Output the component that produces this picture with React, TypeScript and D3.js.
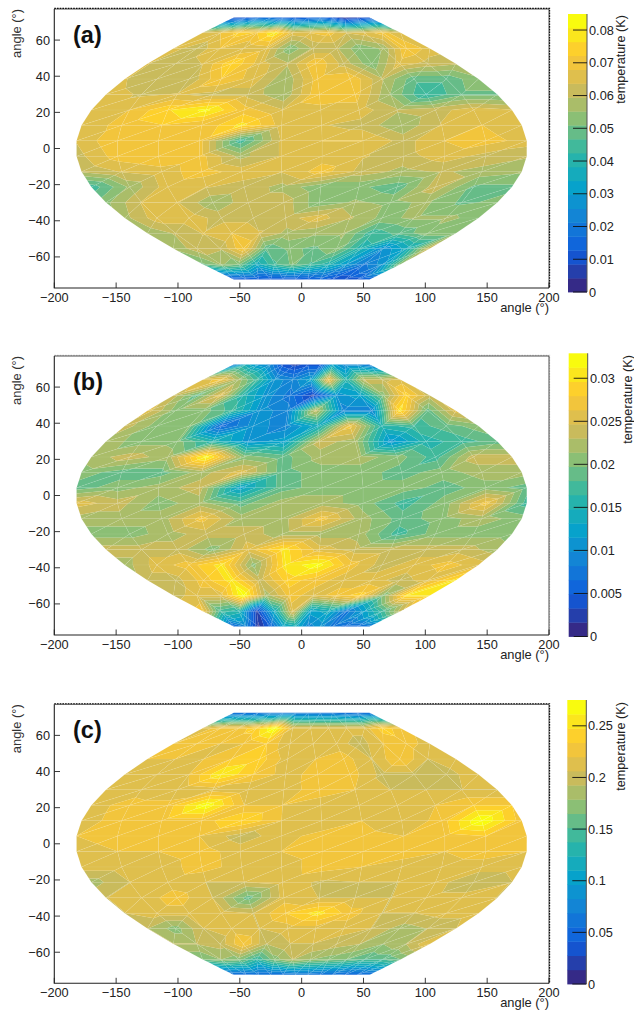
import React, { useMemo } from 'react'
import * as d3 from 'd3'

// grid nodes of the map, degrees
const lats = [72.5, 64, 55.4, 46.9, 38.4, 29.9, 21.3, 12.8, 4.3, -4.3, -12.8, -21.3, -29.9, -38.4, -46.9, -55.4, -64, -72.5]
const lons = [-182.5, -149.3, -116.1, -82.9, -49.8, -16.6, 16.6, 49.8, 82.9, 116.1, 149.3, 182.5]

// temperatures in mK, one row per latitude
const tempA = [
  [8, 10, 14, 16, 12, 10, 12, 14, 10, 3, 6, 10],
  [64, 68, 74, 72, 80, 66, 68, 70, 64, 66, 70, 64],
  [66, 60, 68, 64, 66, 52, 60, 60, 52, 56, 72, 66],
  [64, 60, 64, 76, 66, 60, 72, 62, 52, 66, 62, 60],
  [64, 60, 60, 72, 66, 56, 70, 72, 60, 48, 48, 54],
  [66, 63, 64, 62, 62, 56, 72, 70, 55, 42, 50, 50],
  [66, 68, 76, 82, 70, 64, 66, 66, 60, 62, 66, 64],
  [64, 70, 72, 68, 78, 66, 64, 62, 56, 64, 68, 64],
  [64, 72, 72, 70, 44, 64, 68, 68, 62, 68, 70, 66],
  [62, 70, 72, 70, 58, 64, 66, 64, 62, 66, 62, 60],
  [60, 64, 66, 70, 66, 64, 70, 62, 58, 60, 58, 56],
  [44, 56, 66, 64, 62, 58, 52, 52, 48, 62, 50, 50],
  [54, 64, 64, 56, 62, 62, 52, 56, 54, 56, 50, 52],
  [58, 66, 66, 62, 62, 62, 66, 60, 54, 56, 56, 54],
  [56, 60, 64, 68, 64, 58, 56, 56, 44, 48, 54, 54],
  [56, 62, 60, 72, 48, 52, 50, 54, 40, 26, 36, 64],
  [50, 56, 52, 36, 46, 52, 46, 40, 30, 20, 28, 54],
  [10, 11, 12, 11, 11, 11, 12, 14, 10, 10, 10, 13],
]

const tempB = [
  [7.4, 14, 10.7, 9, 4.1, 2.5, 4.1, 4.1, 12.3, 9, 9, 7.4],
  [25.5, 27.1, 22.2, 17.3, 10.7, 9, 12.3, 27.1, 15.6, 23.9, 23.9, 25.5],
  [23.9, 18.9, 25.5, 15.6, 10.7, 7.4, 2.5, 10.7, 12.3, 20.6, 28.8, 23.9],
  [25.5, 20.6, 20.6, 17.3, 10.7, 9, 23.9, 9, 9, 30.4, 18.9, 25.5],
  [23.9, 20.6, 20.6, 5.8, 10.7, 9, 14, 27.1, 15.6, 17.3, 18.9, 20.6],
  [22.2, 20.6, 20.6, 15.6, 10.7, 12.3, 23.9, 22.2, 10.7, 15.6, 17.3, 18.9],
  [22.2, 23.9, 22.2, 32.1, 20.6, 18.9, 22.2, 22.2, 20.6, 17.3, 23.9, 23.9],
  [20.6, 18.9, 18.9, 22.2, 25.5, 18.9, 20.6, 20.6, 18.9, 20.6, 22.2, 22.2],
  [18.9, 20.6, 22.2, 23.9, 12.3, 18.9, 20.6, 20.6, 20.6, 18.9, 20.6, 18.9],
  [25.5, 23.9, 20.6, 22.2, 18.9, 22.2, 22.2, 20.6, 17.3, 20.6, 27.1, 17.3],
  [22.2, 22.2, 22.2, 27.1, 22.2, 22.2, 27.1, 22.2, 18.9, 20.6, 22.2, 20.6],
  [20.6, 20.6, 22.2, 23.9, 23.9, 22.2, 22.2, 22.2, 17.3, 20.6, 20.6, 20.6],
  [23.9, 23.9, 23.9, 20.6, 25.5, 30.4, 25.5, 23.9, 23.9, 23.9, 23.9, 22.2],
  [22.2, 25.5, 27.1, 30.4, 20.6, 30.4, 32.1, 27.1, 23.9, 25.5, 27.1, 25.5],
  [23.9, 23.9, 27.1, 30.4, 23.9, 28.8, 27.1, 25.5, 25.5, 23.9, 25.5, 30.4],
  [23.9, 25.5, 25.5, 32.9, 22.2, 27.1, 25.5, 27.1, 28.8, 20.6, 30.4, 30.4],
  [27.1, 17.3, 15.6, 2.5, 14, 25.5, 12.3, 14, 7.4, 12.3, 17.3, 23.9],
  [5.8, 9, 1.2, 5.8, 12.3, 14, 9, 10.7, 7.4, 5.8, 5.8, 7.4],
]

const tempC = [
  [55, 55, 55, 60, 60, 62, 62, 60, 60, 55, 50, 55],
  [213, 227, 227, 241, 275, 213, 213, 213, 213, 213, 241, 227],
  [220, 234, 220, 220, 234, 206, 213, 213, 199, 220, 227, 213],
  [220, 220, 220, 234, 241, 213, 220, 227, 206, 234, 206, 213],
  [220, 213, 220, 261, 234, 213, 227, 227, 202, 202, 202, 213],
  [220, 213, 206, 213, 206, 213, 227, 220, 206, 206, 206, 206],
  [213, 227, 227, 272, 220, 220, 213, 220, 220, 220, 234, 234],
  [213, 227, 227, 227, 248, 220, 206, 220, 206, 227, 275, 227],
  [220, 227, 227, 220, 199, 213, 227, 227, 220, 227, 234, 227],
  [213, 220, 220, 227, 213, 220, 227, 227, 227, 220, 227, 220],
  [213, 213, 213, 227, 213, 213, 227, 220, 213, 213, 213, 213],
  [186, 206, 213, 206, 206, 213, 204, 206, 206, 213, 193, 206],
  [206, 213, 227, 206, 158, 213, 206, 206, 206, 213, 213, 206],
  [206, 213, 213, 213, 206, 234, 254, 227, 206, 206, 213, 213],
  [193, 172, 206, 213, 206, 213, 213, 213, 206, 186, 193, 206],
  [193, 193, 199, 234, 193, 206, 206, 199, 193, 179, 193, 220],
  [165, 179, 172, 138, 172, 193, 179, 172, 165, 151, 151, 165],
  [50, 50, 55, 55, 55, 60, 60, 55, 55, 50, 50, 50],
]

const xTicks = [-200, -150, -100, -50, 0, 50, 100, 150, 200]
const yTicks = [-60, -40, -20, 0, 20, 40, 60]
const barTicksA = [0, 0.01, 0.02, 0.03, 0.04, 0.05, 0.06, 0.07, 0.08]
const barTicksB = [0, 0.005, 0.01, 0.015, 0.02, 0.025, 0.03]
const barTicksC = [0, 0.05, 0.1, 0.15, 0.2, 0.25]

// palette stops of the colour bar
const birdColors = ['#352a87', '#0f5cdd', '#1481d6', '#06a4ca', '#2eb7a4', '#87bf77', '#d1bb59', '#fec832', '#f9fb0e']
const nBands = 20

const bird = d3.scaleLinear<string>().domain(d3.range(9).map(i => i / 8)).range(birdColors).interpolate(d3.interpolateRgb)
const bandColor = (k: number) => bird(k / (nBands - 1))

type Pt = { x: number, y: number, v: number }

// cut a triangle down to the part with a value on the kept side of the level
const clip = (poly: Pt[], level: number, keepAbove: boolean) => {
  const inside = (p: Pt) => keepAbove ? p.v >= level : p.v <= level
  const out: Pt[] = []
  poly.forEach((p, i) => {
    const q = poly[(i + 1) % poly.length]
    if (inside(p)) out.push(p)
    if (inside(p) !== inside(q)) {
      const t = (level - p.v) / (q.v - p.v)
      out.push({ x: p.x + t * (q.x - p.x), y: p.y + t * (q.y - p.y), v: level })
    }
  })
  return out
}

const font = '"Liberation Sans", Arial, sans-serif'

const Panel = ({ temps, name, top, labelY, barX, barTop, barBottom, barMax, barTicks, barLabelX, titleX, titleTop, dashColor }: any) => {
  const height = 279
  const x = d3.scaleLinear().domain([-200, 200]).range([54.3, 549])
  const y = d3.scaleLinear().domain([-77.2, 77.2]).range([top + height, top])
  const bar = d3.scaleLinear().domain([0, barMax]).range([barBottom, barTop])
  const bottom = top + height
  const step = barMax / nBands
  const tickFormat = d3.format('d')

  const { polys, mesh } = useMemo(() => {
    const line = d3.line<Pt>().x(p => x(p.x)).y(p => y(p.y))
    const node = (r: number, c: number): Pt => ({
      x: lons[c] * Math.cos(lats[r] * Math.PI / 180),
      y: lats[r],
      v: temps[r][c] / 1000,
    })
    const polys: { d: string, k: number }[] = []
    let mesh = ''
    for (let r = 0; r < lats.length - 1; r++) {
      for (let c = 0; c < lons.length - 1; c++) {
        const tris = [
          [node(r + 1, c), node(r + 1, c + 1), node(r, c + 1)],
          [node(r + 1, c), node(r, c + 1), node(r, c)],
        ]
        mesh += line(tris[0]) + 'Z' + line(tris[1]) + 'Z'
        tris.forEach(tri => {
          d3.range(nBands).forEach(k => {
            let p = tri
            if (k > 0) p = clip(p, k * step, true)
            if (p.length && k < nBands - 1) p = clip(p, (k + 1) * step, false)
            if (p.length > 2) polys.push({ d: line(p) + 'Z', k })
          })
        })
      }
    }
    return { polys, mesh }
  }, [])

  return (
    <g fontFamily={font}>
      {polys.map((p, i) => <path key={i} d={p.d} fill={bandColor(p.k)} />)}
      {/* the thin light seams between the mesh triangles */}
      <path d={mesh} fill="none" stroke="#fff" strokeOpacity={0.08} strokeWidth={0.6} />

      {/* frame */}
      <path d={`M54.3,${top - 0.6}H549.6V${bottom}`} fill="none" stroke={dashColor} strokeWidth={1.1} strokeDasharray="1.6 1.1" />
      <path d={`M54.3,${top}H549V${bottom}`} fill="none" stroke="#222" strokeWidth={0.8} />
      <path d={`M54.3,${top}V${bottom}H549`} fill="none" stroke="#222" strokeWidth={1.1} />

      {xTicks.map(t => (
        <g key={t}>
          <line x1={x(t)} x2={x(t)} y1={bottom} y2={bottom - 5.5} stroke="#222" strokeWidth={0.9} />
          <text x={x(t)} y={bottom + 13.5} textAnchor="middle" fontSize={12.75} fill="#222">{tickFormat(t).replace('-', '\u2212')}</text>
        </g>
      ))}
      {yTicks.map(t => (
        <g key={t}>
          <line x1={54.3} x2={60} y1={y(t)} y2={y(t)} stroke="#222" strokeWidth={0.9} />
          <text x={50} y={y(t) + 4.5} textAnchor="end" fontSize={12.75} fill="#222">{tickFormat(t).replace('-', '\u2212')}</text>
        </g>
      ))}

      <text x={549} y={bottom + 24} textAnchor="end" fontSize={12.9} fill="#222">angle (°)</text>
      <text transform={`translate(21,${top}) rotate(-90)`} textAnchor="end" fontSize={12.9} fill="#333">angle (°)</text>
      <text x={73} y={labelY} fontSize={23.5} fontWeight="bold" fill="#111">{name}</text>

      {/* colour bar */}
      {d3.range(nBands).map(k => (
        <rect key={k} x={barX} width={19} y={bar((k + 1) * step)} height={bar(k * step) - bar((k + 1) * step) + 0.4} fill={bandColor(k)} />
      ))}
      <line x1={barX + 19} x2={barX + 19} y1={barTop} y2={barBottom} stroke="#555" strokeWidth={1} />
      {barTicks.map((t: number) => (
        <g key={t}>
          <line x1={barX + 5} x2={barX + 19} y1={bar(t)} y2={bar(t)} stroke="#111" strokeWidth={0.9} />
          <text x={barLabelX} y={bar(t) + 4.5} fontSize={12.75} fill="#222">{d3.format('~g')(t)}</text>
        </g>
      ))}
      <text transform={`translate(${titleX},${titleTop}) rotate(-90)`} textAnchor="end" fontSize={12.7} fill="#222">temperature (K)</text>
    </g>
  )
}

export default function App() {
  return (
    <svg width={634} height={1011} style={{ position: 'absolute', left: 0, top: 0, background: '#fff' }}>
      <Panel temps={tempA} name="(a)" top={9} labelY={42.5} barX={568} barTop={14} barBottom={292} barMax={0.0849} barTicks={barTicksA} barLabelX={589} titleX={625} titleTop={15} dashColor="#000" />
      <Panel temps={tempB} name="(b)" top={356} labelY={390} barX={568.7} barTop={353.3} barBottom={636.5} barMax={0.0329} barTicks={barTicksB} barLabelX={590} titleX={632} titleTop={355} dashColor="#ccc" />
      <Panel temps={tempC} name="(c)" top={704.3} labelY={738} barX={567.3} barTop={700} barBottom={984} barMax={0.275} barTicks={barTicksC} barLabelX={588} titleX={625} titleTop={702} dashColor="#000" />
    </svg>
  )
}
